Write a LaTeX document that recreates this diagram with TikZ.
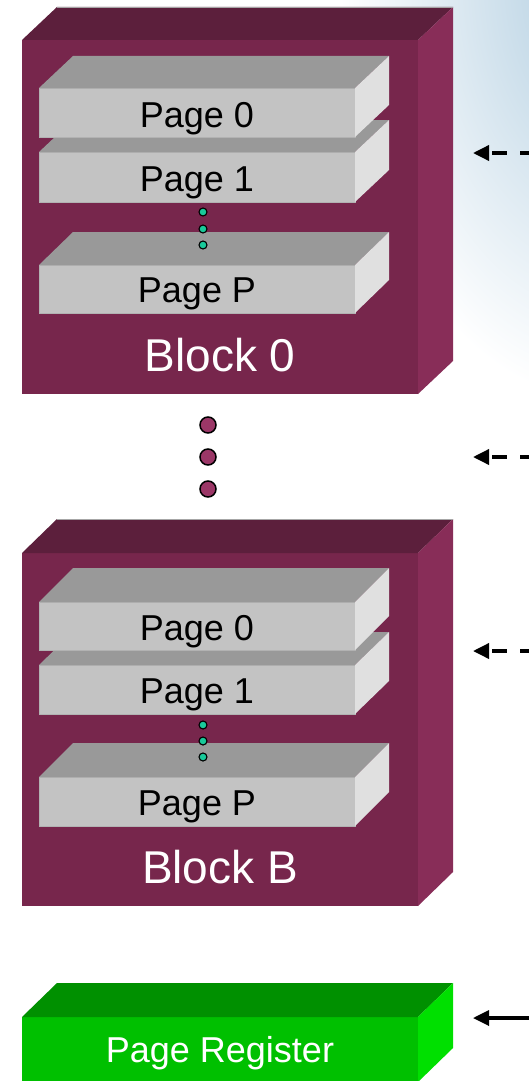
\documentclass[tikz,border=0pt]{standalone}
\usepackage{fontspec}
\setmainfont{Liberation Sans}
\usetikzlibrary{calc,arrows.meta}

\definecolor{blockfrontc}{HTML}{77264C}
\definecolor{blocktopc}{HTML}{5C1F3C}
\definecolor{blocksidec}{HTML}{882D58}
\definecolor{pagefrontc}{HTML}{C3C3C3}
\definecolor{pagetopc}{HTML}{999999}
\definecolor{pagesidec}{HTML}{E0E0E0}
\definecolor{regfrontc}{HTML}{00C000}
\definecolor{regtopc}{HTML}{009000}
\definecolor{regsidec}{HTML}{00E000}
\definecolor{bigdotc}{HTML}{9B3767}
\definecolor{smalldotc}{HTML}{19C99A}
\definecolor{hazec}{HTML}{B0CDE0}

\tikzset{
  blockfront/.style={fill=blockfrontc},
  blocktop/.style={fill=blocktopc},
  blockside/.style={fill=blocksidec},
  pagefront/.style={fill=pagefrontc, draw=black!30, line width=0.8pt},
  pagetop/.style={fill=pagetopc},
  pageside/.style={fill=pagesidec},
  regfront/.style={fill=regfrontc},
  regtop/.style={fill=regtopc},
  regside/.style={fill=regsidec},
  pagelabel/.style={text=black, font=\fontsize{36}{40}\selectfont, inner sep=0pt},
  blocklabel/.style={text=white, font=\fontsize{46}{50}\selectfont, inner sep=0pt},
  reglabel/.style={text=white, font=\fontsize{36}{40}\selectfont, inner sep=0pt},
  bigdot/.style={circle, fill=bigdotc, draw=black, line width=1.5pt, minimum size=16pt, inner sep=0pt},
  smalldot/.style={circle, fill=smalldotc, draw=black, line width=1.1pt, minimum size=8pt, inner sep=0pt},
  dasharrow/.style={{Triangle[length=16pt,width=15pt]}-, line width=3.5pt,
    dash pattern=on 15pt off 13pt, dash phase=24pt},
  solidarrow/.style={{Triangle[length=16pt,width=15pt]}-, line width=3.3pt},
}

% box with a front face node and shaded top and right faces
% #1 name, #2 front top-left corner, #3 width, #4 height, #5 depth offset, #6 style prefix
\newcommand\cuboid[6]{%
  \node[#6front, anchor=north west, minimum width=#3pt, minimum height=#4pt,
        inner sep=0pt, outer sep=0pt] (#1) at (#2) {};
  \fill[#6top] (#1.north west) -- ++(#5) -- ($(#1.north east)+(#5)$) -- (#1.north east) -- cycle;
  \fill[#6side] (#1.north east) -- ++(#5) -- ($(#1.south east)+(#5)$) -- (#1.south east) -- cycle;
}

\begin{document}
\begin{tikzpicture}[x=1pt, y=-1pt]
\useasboundingbox (0,0) rectangle (529,1081);
\clip (0,0) rectangle (529,1081);
\fill[white] (0,0) rectangle (529,1081);
% soft blue haze in the upper right corner
\shade[inner color=hazec, outer color=white] (600,-20) ellipse (260 and 420);

% ---- Block 0 ----
\cuboid{blk0}{22,40}{396}{354}{35,-33}{block}
\draw[line width=0.8pt, black!35] ($(blk0.north west)+(35,-33)$) -- ($(blk0.north east)+(35,-33)$);
\cuboid{b0pP}{39,265}{316}{48}{34,-33}{page}
\cuboid{b0p1}{39,152}{316}{50}{34,-32}{page}
\cuboid{b0p0}{39,88}{316}{49}{34,-32}{page}
\node[pagelabel, anchor=base] (b0p0t) at ([yshift=10pt]b0p0.south) {Page 0};
\node[pagelabel, anchor=base] (b0p1t) at ([yshift=11pt]b0p1.south) {Page 1};
\node[pagelabel, anchor=base] (b0pPt) at ([yshift=11pt]b0pP.south) {Page P};
\node[blocklabel, anchor=base] (b0t) at ([yshift=23pt]blk0.south) {Block 0};
\node[smalldot] (b0d1) at (203,212) {};
\node[smalldot] (b0d2) at (203,229) {};
\node[smalldot] (b0d3) at (203,245) {};

% ---- dots between blocks ----
\node[bigdot] (gap1) at (208,425) {};
\node[bigdot] (gap2) at (208,457) {};
\node[bigdot] (gap3) at (208,489) {};

% ---- Block B ----
\cuboid{blkB}{22,553}{396}{353}{35,-34}{block}
\draw[line width=0.8pt, black!35] ($(blkB.north west)+(35,-34)$) -- ($(blkB.north east)+(35,-34)$);
\cuboid{bBpP}{39,777}{316}{49}{34,-34}{page}
\cuboid{bBp1}{39,665}{316}{49}{34,-33}{page}
\cuboid{bBp0}{39,602}{316}{48}{34,-34}{page}
\node[pagelabel, anchor=base] (bBp0t) at ([yshift=10pt]bBp0.south) {Page 0};
\node[pagelabel, anchor=base] (bBp1t) at ([yshift=11pt]bBp1.south) {Page 1};
\node[pagelabel, anchor=base] (bBpPt) at ([yshift=11pt]bBpP.south) {Page P};
\node[blocklabel, anchor=base] (bBt) at ([yshift=23pt]blkB.south) {Block B};
\node[smalldot] (bBd1) at (203,725) {};
\node[smalldot] (bBd2) at (203,741) {};
\node[smalldot] (bBd3) at (203,757) {};

% ---- Page register ----
\cuboid{reg}{22,1017}{396}{65}{35,-34}{reg}
\node[reglabel, anchor=base] (regt) at ([yshift=20pt]reg.south) {Page Register};

% ---- incoming arrows ----
\coordinate (tipcol) at (473,0);
\coordinate (src0) at (545,153);
\coordinate (src1) at (545,457);
\coordinate (src2) at (545,651);
\coordinate (src3) at (545,1018);
\draw[dasharrow] (tipcol |- src0) -- (src0);
\draw[dasharrow] (tipcol |- src1) -- (src1);
\draw[dasharrow] (tipcol |- src2) -- (src2);
\draw[solidarrow] (tipcol |- src3) -- (src3);
\end{tikzpicture}
\end{document}
